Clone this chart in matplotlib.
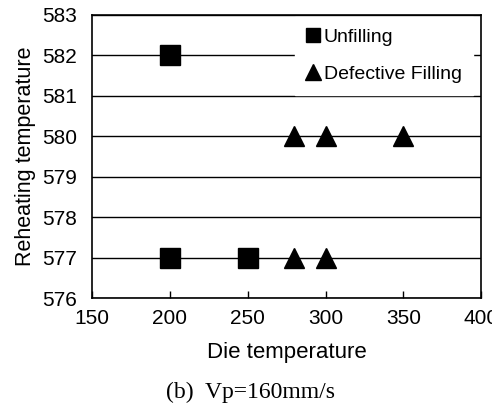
import matplotlib.pyplot as plt
from matplotlib.lines import Line2D

# die temperature / reheating temperature for each defect type
unfill_x = [200, 200, 250]
unfill_y = [582, 577, 577]
defect_x = [280, 300, 350, 280, 300]
defect_y = [580, 580, 580, 577, 577]

xticks = [150, 200, 250, 300, 350, 400]
yticks = [576, 577, 578, 579, 580, 581, 582, 583]

plt.rcParams['font.family'] = 'Liberation Sans'

fig = plt.figure(figsize=(4.92, 4.05), dpi=100)
ax = fig.add_axes([0.187, 0.264, 0.791, 0.699])

for y in yticks:
    ax.axhline(y, color='black', lw=1.0, zorder=1)

ax.plot(unfill_x, unfill_y, 's', color='black', ms=14, ls='none', zorder=3)
ax.plot(defect_x, defect_y, '^', color='black', ms=15, ls='none', zorder=3)

ax.set_xlim(150, 400)
ax.set_ylim(576, 583)
ax.set_xticks(xticks)
ax.set_yticks(yticks)
ax.tick_params(axis='x', direction='in', length=5, width=1, labelsize=15, pad=8)
ax.tick_params(axis='y', length=0, labelsize=15, pad=11)
for s in ax.spines.values():
    s.set_linewidth(1.2)

ax.set_xlabel('Die temperature', fontsize=16, labelpad=10)
ax.set_ylabel('Reheating temperature', fontsize=15.5, labelpad=4)

handles = [Line2D([], [], marker='s', color='black', ls='none', ms=10),
           Line2D([], [], marker='^', color='black', ls='none', ms=11)]
leg = ax.legend(handles, ['Unfilling', 'Defective Filling'], loc='upper right',
                bbox_to_anchor=(0.985, 1.0), fontsize=14, frameon=True,
                framealpha=1, edgecolor='white', fancybox=False,
                handlelength=0.7, handletextpad=0.2, labelspacing=1.0,
                borderpad=0.6, borderaxespad=0.1)
leg.set_zorder(2)

fig.text(0.509, 0.03, '(b)  Vp=160mm/s', ha='center', va='center', fontsize=17,
         family='Liberation Serif')

fig.savefig('out.png', dpi=100)
